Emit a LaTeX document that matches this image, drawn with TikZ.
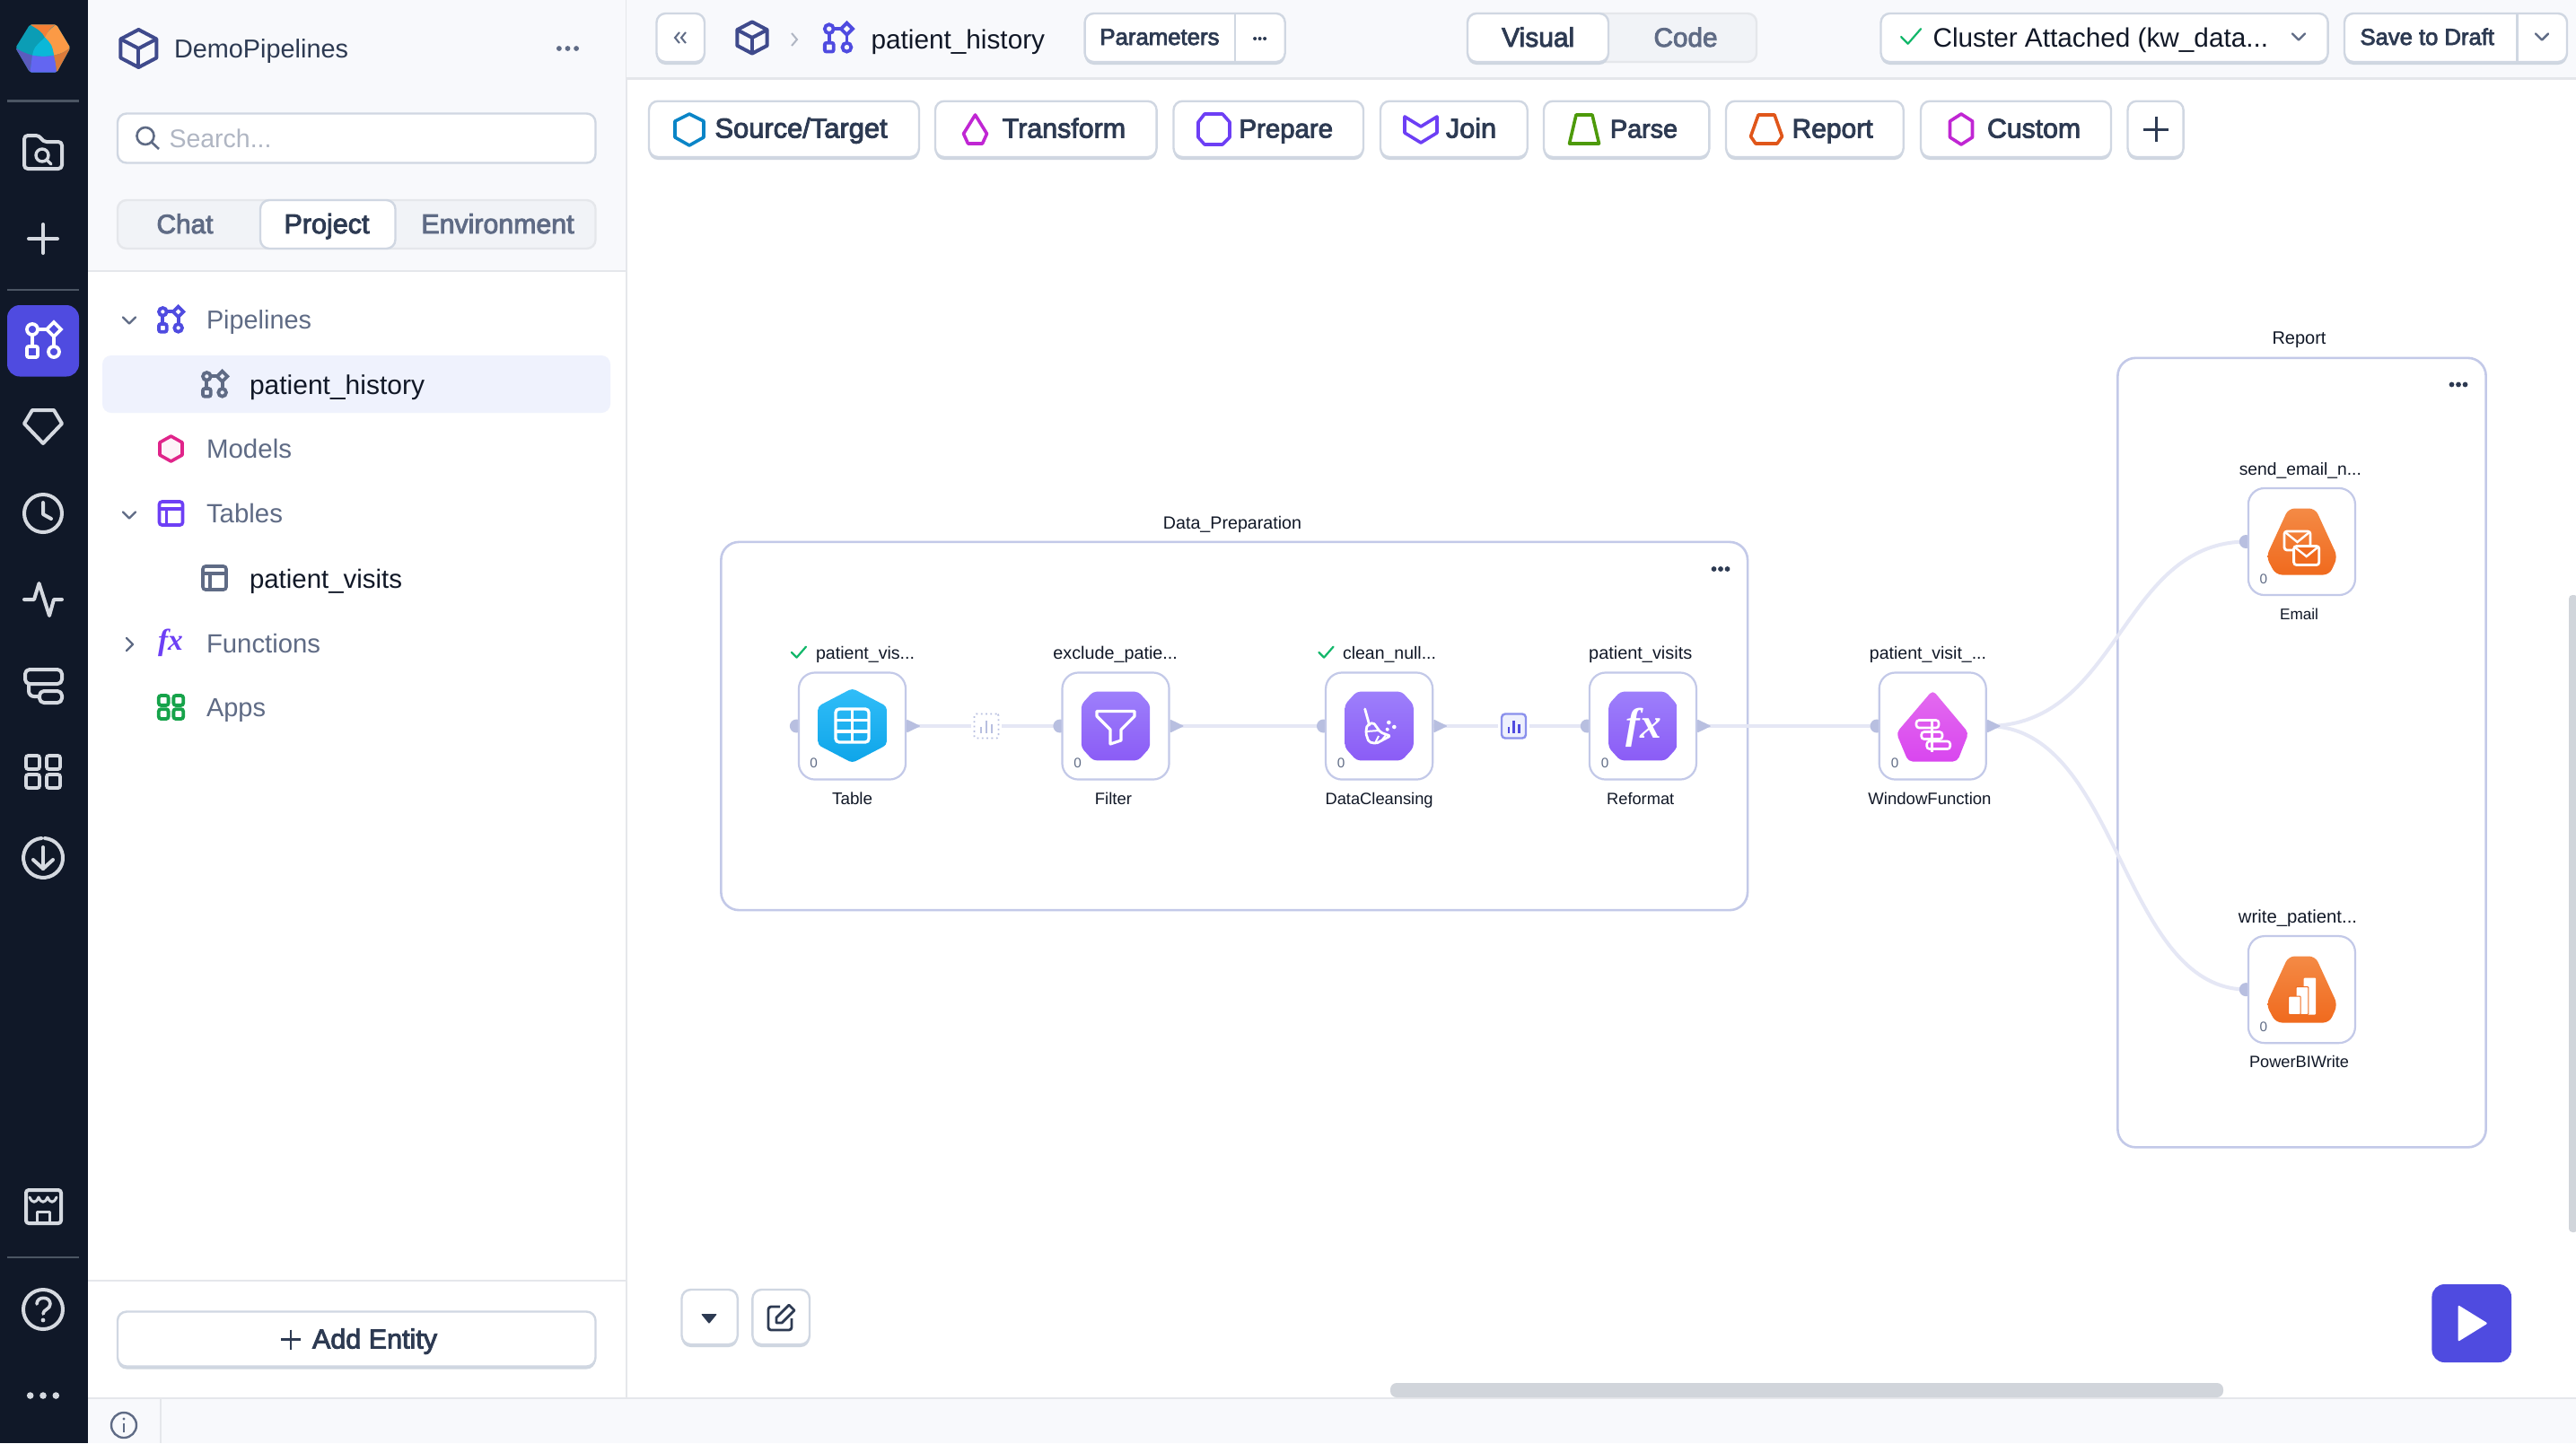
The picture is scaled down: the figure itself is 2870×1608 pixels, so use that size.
\documentclass[tikz,border=0pt]{standalone}
\usepackage{fontspec}
\setmainfont{Liberation Sans}
\newfontfamily\fmed[FakeBold=3]{Liberation Sans}
\newfontfamily\fserif{Liberation Serif}
\usetikzlibrary{calc}
\pgfdeclarelayer{bg}\pgfdeclarelayer{lk}\pgfsetlayers{bg,lk,main}
\newlength\pxu\setlength\pxu{0.01cm}
\newlength\fitlen
\definecolor{navy}{HTML}{101828}
\definecolor{panelbg}{HTML}{F8F9FC}
\definecolor{rule}{HTML}{E5E7EB}
\definecolor{tabbg}{HTML}{F1F3F7}
\definecolor{btnln}{HTML}{D0D7E2}
\definecolor{btnsh}{HTML}{CFD6E0}
\definecolor{side}{HTML}{D5D9E0}
\definecolor{sidediv}{HTML}{4B5563}
\definecolor{indigo}{HTML}{4F4BE0}
\definecolor{rowhl}{HTML}{EFF2FD}
\definecolor{grayt}{HTML}{5F6B85}
\definecolor{muted}{HTML}{B0B6C3}
\definecolor{dark}{HTML}{2D3A52}
\definecolor{ink}{HTML}{111827}
\definecolor{cube}{HTML}{3F4A8C}
\definecolor{okg}{HTML}{12B76A}
\definecolor{port}{HTML}{B8BFE0}
\definecolor{wire}{HTML}{E5E7F5}
\definecolor{nodeln}{HTML}{C3C9E8}
\definecolor{violet}{HTML}{6D3FF5}
\definecolor{magenta}{HTML}{C026D3}
\definecolor{scroll}{HTML}{D1D5DB}
\definecolor{skyT}{HTML}{31BDF8}\definecolor{skyB}{HTML}{0EA5E9}
\definecolor{vioT}{HTML}{9D7FFB}\definecolor{vioB}{HTML}{8B5CF6}
\definecolor{magT}{HTML}{E36BEF}\definecolor{magB}{HTML}{D946EF}
\definecolor{orT}{HTML}{F48A45}\definecolor{orB}{HTML}{F06A1E}
\definecolor{pinkL}{HTML}{E0248A}\definecolor{pinkF}{HTML}{FDF2F8}
\definecolor{srcC}{HTML}{0A85C7}\definecolor{parC}{HTML}{4D9A0A}
\definecolor{repC}{HTML}{E0561A}\definecolor{appC}{HTML}{16A34A}
\definecolor{lgTeal}{HTML}{0B9DB5}\definecolor{lgOr}{HTML}{F57F35}
\definecolor{lgOrL}{HTML}{FB9A46}\definecolor{lgCy}{HTML}{0BB8D8}
\definecolor{lgInd}{HTML}{5B5BBD}\definecolor{lgBlue}{HTML}{6366F1}
\definecolor{lgBr}{HTML}{DB7A3A}
\definecolor{statF}{HTML}{EEF0FD}\definecolor{statL}{HTML}{8A90EC}
\newcommand\ftw[2]{\settowidth\fitlen{\fontsize{10pt}{12pt}\selectfont #2}\pgfmathsetmacro\fitsz{10*#1*0.284528/\fitlen}\fontsize{\fitsz pt}{\fitsz pt}\selectfont #2}
\newcommand\LT[7][]{\node[txt,anchor=base west,text=#6,#1] (#2) at (#3,#4) {\ftw{#5}{#7}};}
\newcommand\CT[7][]{\node[txt,anchor=base,text=#6,#1] (#2) at (#3,#4) {\ftw{#5}{#7}};}
\newcommand\btn[4]{\fill[btnsh,rounded corners=10\pxu] (#1,#2) rectangle (#3,{#4+3});\draw[btnln,fill=white,line width=2.4\pxu,rounded corners=10\pxu] (#1,#2) rectangle (#3,#4);}
\newcommand\gPipe[4]{\begin{scope}[shift={(#1,#2)},scale=#3,draw=#4,line width=3.8\pxu]
\draw (-12,-12) circle[radius=6];\draw (12,-20) -- (20,-12) -- (12,-4) -- (4,-12) -- cycle;
\draw[rounded corners=2\pxu] (-18,7) rectangle (-6,19);\draw (12,13) circle[radius=6];
\draw (-6,-12) -- (4,-12);\draw (-12,-6) -- (-12,7);\draw (12,-4) -- (12,7);\end{scope}}
\newcommand\gCube[4]{\begin{scope}[shift={(#1,#2)},scale=#3,draw=#4,line width=4\pxu,line join=round]
\draw (0,-20) -- (19,-10) -- (19,10) -- (0,20) -- (-19,10) -- (-19,-10) -- cycle;
\draw (-19,-10) -- (0,0) -- (19,-10);\draw (0,0) -- (0,20);\end{scope}}
\newcommand\gTbl[4]{\begin{scope}[shift={(#1,#2)},draw=#4,line width=3.6\pxu]
\draw[rounded corners=3\pxu] (-13,-13) rectangle (13,13);\draw (-13,-5) -- (13,-5);\draw (-5,-5) -- (-5,13);\end{scope}}
\newcommand\gGrid[4]{\begin{scope}[shift={(#1,#2)},scale=#3,draw=#4,line width=3.8\pxu,rounded corners=2.5\pxu]
\draw (-19,-18) rectangle (-4,-3);\draw (4,-18) rectangle (19,-3);\draw (-19,3) rectangle (-4,18);\draw (4,3) rectangle (19,18);\end{scope}}
\newcommand\gChev[2]{\draw[grayt,line width=2.4\pxu,line join=round,line cap=round] ({#1-7},{#2-3.5}) -- (#1,{#2+3.5}) -- ({#1+7},{#2-3.5});}
\newcommand\gDots[4]{\foreach \dx in {-1,0,1}{\fill[#4] ({#1+\dx*#3},#2) circle[radius=2.9];}}
\newcommand\gCheck[3]{\draw[okg,line width=2.2\pxu,line cap=round,line join=round] ({#1-#3},#2) -- ({#1-0.3*#3},{#2+0.7*#3}) -- ({#1+#3},{#2-0.8*#3});}
\newcommand\gPort[1]{\fill[port] ($(#1.west)+(-1.5,0)$) circle[radius=7.5];}
\newcommand\gOut[1]{\fill[port,rounded corners=1\pxu] ($(#1.east)+(0,-7.5)$) -- ($(#1.east)+(15.5,0)$) -- ($(#1.east)+(0,7.5)$) -- cycle;}
\newcommand\gBars[3]{\begin{scope}[shift={(#1,#2)}]\fill[#3] (-7,8) rectangle (-4.6,1);\fill[#3] (-1.2,8) rectangle (1.2,-6);\fill[#3] (4.6,8) rectangle (7,-2);\end{scope}}
\tikzset{
  txt/.style={inner sep=0pt,outer sep=0pt},
  nbox/.style={draw=nodeln,fill=white,line width=2.2\pxu,rounded corners=18\pxu,minimum width=1.19cm,minimum height=1.19cm,inner sep=0pt},
  gbox/.style={draw=nodeln,fill=white,line width=2.6\pxu,rounded corners=20\pxu,inner sep=0pt},
  link/.style={wire,line width=4\pxu},
  statA/.style={draw=port,densely dotted,fill=white,line width=1.8\pxu,rounded corners=2\pxu,minimum width=0.27cm,minimum height=0.27cm,inner sep=0pt},
  statB/.style={draw=statL,fill=statF,line width=2.4\pxu,rounded corners=4\pxu,minimum width=0.27cm,minimum height=0.27cm,inner sep=0pt},
  tool/.style={line width=3.6\pxu,line join=round,fill=none},
  sideic/.style={draw=side,line width=4\pxu,line cap=round,line join=round},
  sidediv/.style={draw=sidediv,line width=2.2\pxu},
}
\begin{document}
\begin{tikzpicture}[x=0.01cm,y=-0.01cm]
\useasboundingbox (0,0) rectangle (2870,1608);
\begin{pgfonlayer}{bg}
\fill[white] (0,0) rectangle (2870,1608);
\node[gbox,minimum width=11.43cm,minimum height=4.10cm] (gprep) at (1375.2,809) {};
\node[gbox,minimum width=4.10cm,minimum height=8.79cm] (grep) at (2564.5,838.6) {};
\end{pgfonlayer}
% ---- left rail
\fill[navy] (0,0) rectangle (98,1608);
\fill[panelbg] (98,0) rectangle (698,302);
\draw[rule,line width=2.5\pxu] (98,302) -- (698,302);
\draw[rule,line width=2.5\pxu] (698,0) -- (698,1557);
\draw[rule,line width=2.5\pxu] (98,1427) -- (698,1427);
\fill[panelbg] (98,1558) rectangle (2870,1608);
\draw[rule,line width=2.5\pxu] (98,1558) -- (2870,1558);
\draw[rule,line width=2.5\pxu] (179,1558) -- (179,1608);
% logo
\begin{scope}
\clip[rounded corners=2\pxu] (17.3,53.3) -- (33.3,27.3) -- (62.7,27.3) -- (78.3,53.3) -- (63.3,80.7) -- (33.3,80.7) -- cycle;
\fill[lgTeal] (15,25) rectangle (80,83);
\fill[lgOr] (33.3,25) -- (62.7,25) -- (62.7,27.3) .. controls (56,31) .. (50,41.7) .. controls (46,35) .. (33.3,27.3) -- cycle;
\fill[lgOrL] (62.7,27.3) -- (80,25) -- (80,53) -- (78.3,53.3) .. controls (70,59) .. (60,61.7) .. controls (58,52) .. (50,41.7) .. controls (54,34) .. (62.7,27.3) -- cycle;
\fill[lgCy] (50,41.7) .. controls (58,50) .. (60,61.7) .. controls (50,63.5) and (44,63) .. (36,61.7) .. controls (38,53) .. (50,41.7) -- cycle;
\fill[lgInd] (15,52) -- (17.3,53.3) .. controls (25,58) .. (36,61.7) -- (33.3,83) -- (15,83) -- cycle;
\fill[lgBlue] (36,61.7) .. controls (44,63) and (50,63.5) .. (60,61.7) .. controls (62,70) .. (63.3,83) -- (33.3,83) -- cycle;
\fill[lgBr] (60,61.7) .. controls (70,59) .. (78.3,53.3) -- (80,54) -- (80,83) -- (63.3,83) .. controls (62,70) .. (60,61.7) -- cycle;
\end{scope}
\draw[sidediv] (8,112.5) -- (88,112.5);
\draw[sidediv] (8,323) -- (88,323);
\draw[sidediv] (8,1401) -- (88,1401);
% folder
\draw[sideic,rounded corners=4\pxu] (27,188) -- (27,151) -- (44,151) -- (48,158) -- (69,158) -- (69,188) -- cycle;
\draw[sideic,line width=3.4\pxu] (47,173) circle[radius=7];
\draw[sideic,line width=3.4\pxu] (52,178) -- (57,183);
% plus
\draw[sideic] (32,266) -- (64,266);\draw[sideic] (48,250) -- (48,282);
% active
\fill[indigo,rounded corners=14\pxu] (8,340) rectangle (88,419.5);
\gPipe{48}{379}{1}{white}
% gem
\draw[sideic] (36,457) -- (60,457) -- (69,472) -- (48,494) -- (27,472) -- cycle;
% clock
\draw[sideic] (48,572) circle[radius=21];\draw[sideic] (48,560) -- (48,573) -- (57,578);
% activity
\draw[sideic] (27,668) -- (38,668) -- (43.5,650) -- (55,686) -- (60,668) -- (69,668);
% stacked
\draw[sideic,rounded corners=5\pxu] (28,746) rectangle (69,762);
\draw[sideic,rounded corners=5\pxu] (44,770) rectangle (69,783);
\draw[sideic,rounded corners=6\pxu] (32,762) -- (32,776) -- (44,776);
\gGrid{48}{860}{1}{side}
% download
\draw[sideic] (50,934) arc (-85:265:22);\draw[sideic] (48,944) -- (48,968);\draw[sideic] (37,958) -- (48,968) -- (59,958);
% store
\draw[sideic,rounded corners=3\pxu] (29,1326) rectangle (68,1363);
\draw[sideic,line width=3\pxu] (33,1334) .. controls (36,1341) and (40,1341) .. (43,1334) .. controls (46,1341) and (50,1341) .. (53,1334) .. controls (56,1341) and (60,1341) .. (63,1334);
\draw[sideic,line width=3\pxu] (41,1363) -- (41,1350) -- (55,1350) -- (55,1363);
% help
\draw[sideic] (48,1459) circle[radius=22];
\draw[sideic,line width=3.6\pxu] (41,1453) .. controls (41,1444) and (56,1444) .. (56,1453) .. controls (56,1459) and (48,1459) .. (48,1464);
\fill[side] (48,1471) circle[radius=2.4];
\foreach \dx in {-1,0,1}{\fill[side] ({48+\dx*14.3},1555) circle[radius=3.8];}
% info
\draw[grayt,line width=2.4\pxu] (138,1588) circle[radius=14];
\fill[grayt] (138,1581) circle[radius=1.7];\draw[grayt,line width=2.4\pxu] (138,1586) -- (138,1596);
% ---- project panel
\gCube{154.4}{54}{1.05}{cube}
\LT{tdemo}{194}{64}{194}{dark}{DemoPipelines}
\gDots{632.5}{54}{9.6}{grayt}
\draw[btnln,fill=white,line width=2.4\pxu,rounded corners=10\pxu] (131,126.5) rectangle (663.5,181.5);
\draw[grayt,line width=2.6\pxu] (162,151.5) circle[radius=9.5];\draw[grayt,line width=2.6\pxu] (169,158.5) -- (177,166);
\LT{tsearch}{188.5}{164}{114}{muted}{Search...}
\fill[tabbg,draw=rule,line width=2.4\pxu,rounded corners=10\pxu] (131,223) rectangle (663.5,277);
\draw[btnln,fill=white,line width=2.4\pxu,rounded corners=10\pxu] (290,223) rectangle (440.5,277);
\CT[font=\fmed]{tchat}{206}{260}{63}{grayt}{Chat}
\CT[font=\fmed]{tproj}{364}{260}{95}{dark}{Project}
\CT[font=\fmed]{tenv}{554.5}{260}{170}{grayt}{Environment}
\gChev{144}{357}
\gPipe{190}{356}{0.72}{indigo}
\LT{tpipes}{230}{366}{117}{grayt}{Pipelines}
\fill[rowhl,rounded corners=10\pxu] (114,396) rectangle (680,460);
\gPipe{239}{428}{0.72}{grayt}
\LT{tph}{278}{439}{195}{ink}{patient\_history}
\draw[pinkL,line width=3.6\pxu,fill=pinkF,line join=round] (190.5,486) -- (203,493) -- (203,507) -- (190.5,514) -- (178,507) -- (178,493) -- cycle;
\LT{tmodels}{230}{510.5}{95}{grayt}{Models}
\gChev{144}{574}
\gTbl{190.5}{572}{1}{violet}
\LT{ttables}{230}{582.6}{85}{grayt}{Tables}
\gTbl{239}{644}{1}{grayt}
\LT{tpv}{278}{655}{170}{ink}{patient\_visits}
\draw[grayt,line width=2.4\pxu,line join=round,line cap=round] (141,711) -- (148,718) -- (141,725);
\node[txt,text=violet,font=\fserif\bfseries\itshape\fontsize{9.5pt}{10pt}\selectfont] (ffx) at (190,716) {fx};
\LT{tfun}{230}{727}{127}{grayt}{Functions}
\gGrid{190.5}{788}{0.72}{appC}
\LT{tapps}{230}{798.6}{66}{grayt}{Apps}
\btn{131}{1461.5}{663.5}{1522.5}
\draw[dark,line width=2.8\pxu] (313,1492.5) -- (335,1492.5);\draw[dark,line width=2.8\pxu] (324,1481.5) -- (324,1503.5);
\LT[font=\fmed]{tadd}{348}{1502.5}{139}{dark}{Add Entity}
% ---- top bar
\fill[panelbg] (698,0) rectangle (2870,87);
\draw[rule,line width=3\pxu] (698,87) -- (2870,87);
\btn{731.5}{15}{785}{69}
\draw[grayt,line width=2\pxu] (757,36) -- (752,42) -- (757,48);\draw[grayt,line width=2\pxu] (764,36) -- (759,42) -- (764,48);
\gCube{838}{42}{0.88}{cube}
\draw[muted,line width=2\pxu] (882,37) -- (888,44) -- (882,51);
\gPipe{933.6}{42}{0.82}{indigo}
\LT{tph2}{970.5}{54}{193.5}{ink}{patient\_history}
\btn{1208.6}{15}{1431.7}{69}
\draw[btnln,line width=2.4\pxu] (1376,15) -- (1376,69);
\LT[font=\fmed]{tparam}{1225.4}{50}{133}{dark}{Parameters}
\foreach \dx in {-1,0,1}{\fill[dark] ({1403.6+\dx*5.5},43) circle[radius=2];}
\fill[tabbg,draw=rule,line width=2.4\pxu,rounded corners=10\pxu] (1635,15) rectangle (1957,69);
\btn{1635}{15}{1792}{69}
\CT[font=\fmed]{tvis}{1713.7}{52}{81}{dark}{Visual}
\CT[font=\fmed]{tcode}{1878}{52}{71}{grayt}{Code}
\btn{2095.5}{15}{2593.6}{69}
\gCheck{2129}{41}{11}
\LT{tclus}{2153.5}{52}{373.5}{ink}{Cluster Attached (kw\_data...}
\gChev{2561}{41}
\btn{2612}{15}{2860}{69}
\draw[btnln,line width=2.4\pxu] (2804.5,15) -- (2804.5,69);
\LT[font=\fmed]{tsave}{2629.5}{50}{149.4}{dark}{Save to Draft}
\gChev{2832}{41}
% ---- toolbar
\btn{723}{112.7}{1024}{175}
\draw[tool,draw=srcC] (768,127) -- (784,135) -- (784,153) -- (768,162) -- (752,153) -- (752,135) -- cycle;
\LT[font=\fmed]{tsrc}{796.5}{153.5}{192}{dark}{Source/Target}
\btn{1042}{112.7}{1288.6}{175}
\draw[tool,draw=magenta] (1086.5,128) -- (1099.5,149) -- (1094.5,160) -- (1078.5,160) -- (1073.5,149) -- cycle;
\LT[font=\fmed]{ttrf}{1116.7}{153.5}{137.3}{dark}{Transform}
\btn{1307.5}{112.7}{1519}{175}
\draw[tool,draw=violet] (1342,127) -- (1362,127) -- (1370,136) -- (1370,153) -- (1362,161) -- (1342,161) -- (1335,153) -- (1335,136) -- cycle;
\LT[font=\fmed]{tpre}{1380.5}{153.5}{104.5}{dark}{Prepare}
\btn{1538}{112.7}{1701.7}{175}
\draw[tool,draw=violet] (1565,130) -- (1583,141) -- (1601,130) -- (1601,148) -- (1583,159) -- (1565,148) -- cycle;
\LT[font=\fmed]{tjoin}{1611}{153.5}{56}{dark}{Join}
\btn{1720}{112.7}{1904.4}{175}
\draw[tool,draw=parC] (1756,128) -- (1774,128) -- (1781.5,160) -- (1748.5,160) -- cycle;
\LT[font=\fmed]{tparse}{1794}{153.5}{75}{dark}{Parse}
\btn{1923}{112.7}{2120.7}{175}
\draw[tool,draw=repC] (1959,128) -- (1977,128) -- (1985.5,152) -- (1980,160) -- (1956,160) -- (1950.5,152) -- cycle;
\LT[font=\fmed]{trep}{1996.5}{153.5}{90}{dark}{Report}
\btn{2140}{112.7}{2352}{175}
\draw[tool,draw=magenta] (2185,127) -- (2197.5,135) -- (2197.5,153) -- (2185,161) -- (2172.5,153) -- (2172.5,135) -- cycle;
\LT[font=\fmed]{tcus}{2214}{153.5}{104}{dark}{Custom}
\btn{2370.5}{112.7}{2432.6}{175}
\draw[dark,line width=3\pxu] (2388,144) -- (2416,144);\draw[dark,line width=3\pxu] (2402,130) -- (2402,158);
% ---- canvas
\CT{lprep}{1373}{589}{154}{ink}{Data\_Preparation}
\gDots{1917}{634}{7.5}{dark}
\CT{lrep}{2561.5}{383.5}{60}{ink}{Report}
\gDots{2739}{428.5}{7.5}{dark}
% nodes
\node[nbox] (table) at (949.5,809) {};
\node[nbox] (filter) at (1243,809) {};
\node[nbox] (clean) at (1536.6,809) {};
\node[nbox] (reformat) at (1830.4,809) {};
\node[nbox] (wf) at (2153.2,809) {};
\node[nbox] (email) at (2564.4,603.5) {};
\node[nbox] (pbi) at (2564.4,1102.6) {};
\node[statA] (statone) at (1099,809) {};
\node[statB] (stattwo) at (1686.5,809) {};
\begin{pgfonlayer}{lk}
\draw[link,shorten >=3\pxu] (table.east) -- (statone.west);
\draw[link,shorten <=3\pxu] (statone.east) -- (filter.west);
\draw[link] (filter.east) -- (clean.west);
\draw[link,shorten >=3\pxu] (clean.east) -- (stattwo.west);
\draw[link,shorten <=3\pxu] (stattwo.east) -- (reformat.west);
\draw[link] (reformat.east) -- (wf.west);
\draw[link] (wf.east) .. controls (2362,809) and (2362,603.5) .. (email.west);
\draw[link] (wf.east) .. controls (2362,809) and (2362,1102.6) .. (pbi.west);
\gPort{table}\gPort{filter}\gPort{clean}\gPort{reformat}\gPort{wf}\gPort{email}\gPort{pbi}
\end{pgfonlayer}
\gOut{table}\gOut{filter}\gOut{clean}\gOut{reformat}\gOut{wf}
\gBars{1099}{809}{port}
\gBars{1686.5}{809}{indigo}
% table icon
\shade[top color=skyT,bottom color=skyB,rounded corners=4\pxu] (949.6,767) -- (987.9,787) -- (987.9,830) -- (949.6,850) -- (911.3,830) -- (911.3,787) -- cycle;
\draw[white,line width=3.4\pxu,rounded corners=4\pxu] (931,790) rectangle (968,827);
\draw[white,line width=3.4\pxu] (949.5,790) -- (949.5,827);\draw[white,line width=3.4\pxu] (931,802.5) -- (968,802.5);\draw[white,line width=3.4\pxu] (931,815) -- (968,815);
% octagons
\foreach \cx/\hw in {1243/38.2,1536.6/38.2,1830.4/38.2}{
\shade[top color=vioT,bottom color=vioB,rounded corners=4\pxu] ({\cx-\hw+13},770.7) -- ({\cx+\hw-13},770.7) -- ({\cx+\hw},785) -- ({\cx+\hw},833) -- ({\cx+\hw-13},847.3) -- ({\cx-\hw+13},847.3) -- ({\cx-\hw},833) -- ({\cx-\hw},785) -- cycle;}
\draw[white,line width=3.2\pxu,line join=round] (1222,792.5) -- (1264,792.5) -- (1264,798) -- (1249,813) -- (1249,825) -- (1237,829) -- (1237,813) -- (1222,798) -- cycle;
% broom
\draw[white,line width=2.8\pxu,line cap=round] (1520.7,790) -- (1525.7,808);
\draw[white,line width=2.8\pxu,line join=round,rounded corners=2\pxu] (1530,805) -- (1523,808) -- (1521.7,817) -- (1525,826.7) -- (1533,828.5) -- (1549,820) -- (1538,816) -- cycle;
\draw[white,line width=2\pxu] (1522,815) -- (1536,814);\draw[white,line width=2\pxu] (1532,828) -- (1536,820);\draw[white,line width=2\pxu] (1540,824) -- (1544,819);
\fill[white] (1547.3,805) circle[radius=2.3];\fill[white] (1553.3,810) circle[radius=2.3];\fill[white] (1545.7,812.7) circle[radius=2];
\node[txt,text=white,font=\fserif\bfseries\itshape\fontsize{13.5pt}{14pt}\selectfont] (fxglyph) at (1831,811) {fx};
% window fn
\shade[top color=magT,bottom color=magB,rounded corners=5\pxu] (2153.3,769) -- (2193.3,816.7) -- (2180.7,848.5) -- (2126,848.5) -- (2112.7,816.7) -- cycle;
\begin{scope}[draw=white,line width=2.6\pxu]
\draw (2152.3,801) -- (2152.3,838);
\draw[rounded corners=3\pxu] (2135,802.5) rectangle (2160,811);
\draw[rounded corners=3\pxu] (2140.7,815.5) rectangle (2164,823.5);
\draw[rounded corners=3\pxu] (2146.7,826) rectangle (2172.7,834.5);
\end{scope}
% report icons
\foreach \cy in {603.5,1102.5}{
\shade[top color=orT,bottom color=orB,rounded corners=7\pxu] (2549.6,{\cy-37}) -- (2579.5,{\cy-37}) -- (2604.3,{\cy+17}) -- (2595.3,{\cy+37}) -- (2535.5,{\cy+37}) -- (2524.8,{\cy+17}) -- cycle;}
\draw[white,line width=2.8\pxu,rounded corners=3\pxu] (2545,592) rectangle (2574,613);
\draw[white,line width=2.4\pxu] (2546,593) -- (2559.5,604) -- (2573,593);
\draw[white,fill=orB,line width=2.8\pxu,rounded corners=3\pxu] (2555.6,608.5) rectangle (2583.8,629.5);
\draw[white,line width=2.4\pxu] (2557,610) -- (2569.7,620) -- (2582,610);
\fill[white,rounded corners=1\pxu] (2566.7,1089.5) rectangle (2580,1130.5);
\draw[orB,fill=white,line width=1\pxu,rounded corners=1\pxu] (2558,1099.5) rectangle (2571.8,1130.5);
\draw[orB,fill=white,line width=1\pxu,rounded corners=1\pxu] (2549.6,1110) rectangle (2563.2,1130.5);
% node labels
\gCheck{890}{727}{8}
\LT{ntab}{909}{734}{110}{ink}{patient\_vis...}
\CT{ktab}{949.6}{896.5}{45}{ink}{Table}
\CT{nfil}{1242.7}{734}{138.5}{ink}{exclude\_patie...}
\CT{kfil}{1240.4}{896.5}{41}{ink}{Filter}
\gCheck{1477.5}{727}{8}
\LT{ncln}{1496}{734}{104}{ink}{clean\_null...}
\CT{kcln}{1536.6}{896.5}{120}{ink}{DataCleansing}
\CT{nref}{1827.7}{734}{115}{ink}{patient\_visits}
\CT{kref}{1827.7}{896.5}{75}{ink}{Reformat}
\CT{nwf}{2148}{734}{130}{ink}{patient\_visit\_...}
\CT{kwf}{2150}{896.5}{137}{ink}{WindowFunction}
\CT{nem}{2562.8}{529}{136}{ink}{send\_email\_n...}
\CT{kem}{2561.5}{690}{43}{ink}{Email}
\CT{npb}{2560}{1028}{132}{ink}{write\_patient...}
\CT{kpb}{2561.5}{1189}{111}{ink}{PowerBIWrite}
\CT{zone}{906.7}{855.5}{8.5}{grayt}{0}
\CT{ztwo}{1200.5}{855.5}{8.5}{grayt}{0}
\CT{zthree}{1494}{855.5}{8.5}{grayt}{0}
\CT{zfour}{1788}{855.5}{8.5}{grayt}{0}
\CT{zfive}{2111}{855.5}{8.5}{grayt}{0}
\CT{zsix}{2521.8}{650}{8.5}{grayt}{0}
\CT{zseven}{2521.8}{1149}{8.5}{grayt}{0}
% bottom controls
\btn{759.5}{1437}{821.8}{1498}
\fill[dark,rounded corners=1\pxu] (781,1464) -- (799,1464) -- (790,1475) -- cycle;
\btn{838.4}{1437}{902}{1498}
\begin{scope}[shift={(870,1469)},draw=dark,line width=2.8\pxu,line join=round]
\draw[rounded corners=3\pxu] (-1,-13) -- (-14,-13) -- (-14,13) -- (12,13) -- (12,0);
\draw (-5,5) -- (-5,-1) -- (9,-15) -- (15,-9) -- (1,5) -- cycle;
\end{scope}
\fill[indigo,rounded corners=14\pxu] (2709.4,1431) rectangle (2798,1518);
\fill[white,rounded corners=2\pxu] (2738.5,1454) -- (2771.7,1474.5) -- (2738.5,1495) -- cycle;
% scrollbars
\fill[scroll,rounded corners=7\pxu] (1549,1541) rectangle (2477,1557);
\fill[scroll,rounded corners=4\pxu] (2862,663) rectangle (2872,1373);
\end{tikzpicture}
\end{document}
